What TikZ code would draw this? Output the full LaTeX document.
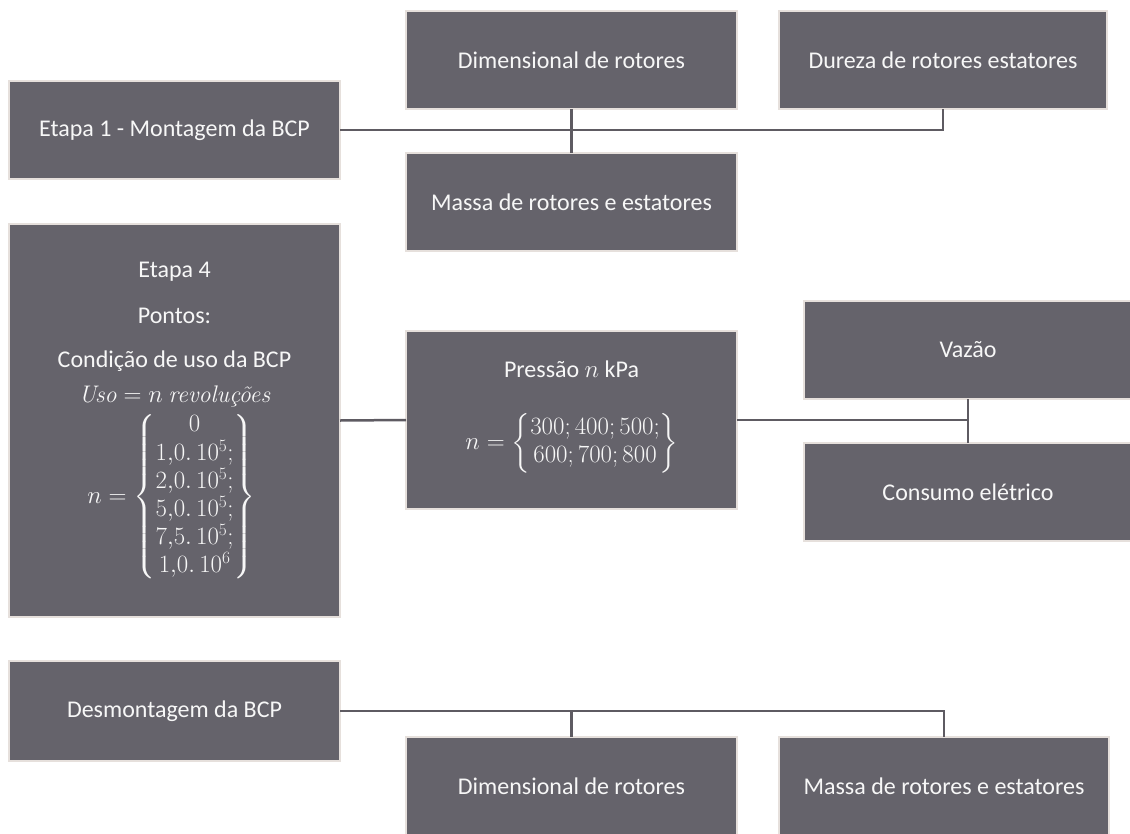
\documentclass[tikz,border=0pt]{standalone}
\usepackage{amsmath}
\usepackage{fontspec}
\newfontfamily\calibri{Carlito}
\definecolor{boxfill}{HTML}{65636B}
\definecolor{boxline}{HTML}{E6E0DC}
\definecolor{conn}{HTML}{5E5B62}
\definecolor{txt}{HTML}{F7F7F7}
\newcommand{\bigfont}{\calibri\fontsize{24}{28.8}\selectfont}
\tikzset{
  box/.style={draw=boxline, line width=2pt, fill=boxfill, text=txt,
    inner sep=0pt, outer sep=0pt, font=\bigfont, align=center},
  lbl/.style={text=txt, inner sep=0pt, font=\bigfont, anchor=base},
  mlbl/.style={text=txt, inner sep=0pt, font=\bigfont, anchor=center},
  link/.style={draw=conn, line width=2.5pt}
}
\begin{document}
\begin{tikzpicture}[x=1pt,y=-1pt]
\useasboundingbox (0,0) rectangle (1130,833);

% top group
\node[box, minimum width=331pt, minimum height=98pt] (e1) at (174.5,130) {Etapa 1 - Montagem da BCP};
\node[box, minimum width=331pt, minimum height=98pt] (dim1) at (571.5,60) {Dimensional de rotores};
\node[box, minimum width=328pt, minimum height=98pt] (dur) at (943,60) {Dureza de rotores estatores};
\node[box, minimum width=331pt, minimum height=98pt] (mas1) at (571.5,202) {Massa de rotores e estatores};

% middle group
\node[box, minimum width=331pt, minimum height=393pt] (e4) at (174.5,420.5) {};
\node[lbl] (e4a) at (174.5,277) {Etapa 4};
\node[lbl] (e4b) at (174.5,323) {Pontos:};
\node[lbl] (e4c) at (174.5,367) {Condição de uso da BCP};
\node[lbl] (e4d) at (174.5,402) {$\textrm{\itshape Uso} = n\ \textrm{\itshape revoluções}$};
\node[mlbl] (e4m) at (171.5,497) {\renewcommand{\arraystretch}{0.93}$n = \left\{\begin{matrix}0\\ 1{,}0.\,10^5;\\ 2{,}0.\,10^5;\\ 5{,}0.\,10^5;\\ 7{,}5.\,10^5;\\ 1{,}0.\,10^6\end{matrix}\right\}$};

\node[box, minimum width=331pt, minimum height=178pt] (pr) at (571.5,420) {};
\node[lbl] (pra) at (571.5,377) {Pressão $n$ kPa};
\node[mlbl] (prm) at (572,443) {\renewcommand{\arraystretch}{0.95}$n = \left\{\begin{matrix}300; 400; 500;\\ 600; 700; 800\end{matrix}\right\}$};

\node[box, minimum width=328pt, minimum height=98pt] (vaz) at (968,350) {Vazão};
\node[box, minimum width=328pt, minimum height=98pt] (con) at (968,492) {Consumo elétrico};

% bottom group
\node[box, minimum width=331pt, minimum height=100pt] (des) at (174.5,711) {Desmontagem da BCP};
\node[box, minimum width=331pt, minimum height=98pt] (dim2) at (571.5,786) {Dimensional de rotores};
\node[box, minimum width=330pt, minimum height=98pt] (mas2) at (944,786) {Massa de rotores e estatores};

% connectors
\draw[link] (e1.east) -| (dur.south);
\draw[link] (dim1.south) -- (mas1.north);
\draw[link] (e4.east) -- (pr.west);
\draw[link] (pr.east) -- (pr.east -| vaz.south);
\draw[link] (vaz.south) -- (con.north);
\draw[link] (des.east) -| (mas2.north);
\draw[link] (des.east -| dim2.north) -- (dim2.north);
\end{tikzpicture}
\end{document}
